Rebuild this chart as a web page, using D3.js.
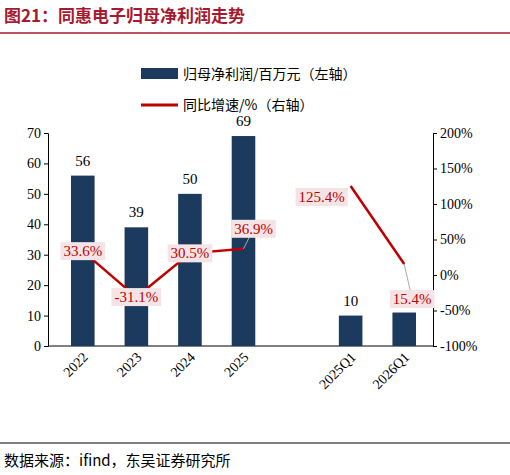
<!DOCTYPE html><html><head><meta charset="utf-8"><script src="https://cdn.jsdelivr.net/npm/d3@7"></script>
<style>body{margin:0;background:#fff}</style></head><body><svg id="c" width="510" height="475"></svg>
<script>
const categories=["2022","2023","2024","2025","","2025Q1","2026Q1"];
const profit=[56,39,50,69,null,10,11];
const profitLabels=["56","39","50","69","","10",""];
const growth=[33.6,-31.1,30.5,36.9,null,125.4,15.4];
const leftTicks=[0,10,20,30,40,50,60,70];
const rightTicks=[-100,-50,0,50,100,150,200];
const svg=d3.select("#c");
const F="'Noto Sans CJK SC','Liberation Serif',serif";
svg.append("text").attr("x",4).attr("y",22).attr("font-family",F).attr("font-weight","bold").attr("font-size",17).attr("fill","#a6192e").text("图21：同惠电子归母净利润走势");
svg.append("line").attr("x1",0).attr("x2",510).attr("y1",33).attr("y2",33).attr("stroke","#a6192e").attr("stroke-width",1.5);
const x=d3.scaleBand().domain(categories.map((d,i)=>i)).range([56,431]).paddingInner(0.56).paddingOuter(0.28);
const y=d3.scaleLinear().domain([0,70]).range([346,133]);
const y2=d3.scaleLinear().domain([-100,200]).range([346,133]);
const fontSerif="'Liberation Serif','Times New Roman',serif";
const ga=svg.append("g").attr("transform","translate(48,0)").call(d3.axisLeft(y).tickValues(leftTicks).tickSize(4));
const gb=svg.append("g").attr("transform","translate(433,0)").call(d3.axisRight(y2).tickValues(rightTicks).tickFormat(d=>d+"%").tickSize(4));
svg.append("line").attr("x1",48).attr("x2",433).attr("y1",346).attr("y2",346).attr("stroke","#000");
[ga,gb].forEach(g=>{g.selectAll("text").attr("font-family",fontSerif).attr("font-size",14).attr("fill","#000");g.select(".domain").attr("stroke","#000");});
const bc=(i)=>x(i)+x.bandwidth()/2;
svg.selectAll(".bar").data(profit.map((v,i)=>({v,i})).filter(d=>d.v!=null)).enter().append("rect")
 .attr("x",d=>x(d.i)).attr("width",x.bandwidth()).attr("y",d=>y(d.v)).attr("height",d=>346-y(d.v)).attr("fill","#1b3a5e");
profitLabels.forEach((t,i)=>{if(!t)return;svg.append("text").attr("x",bc(i)).attr("y",y(profit[i])-10).attr("text-anchor","middle").attr("font-family",fontSerif).attr("font-size",15).text(t);});
const line=d3.line().defined(d=>d.v!=null).x(d=>bc(d.i)).y(d=>y2(d.v));
svg.append("path").datum(growth.map((v,i)=>({v,i}))).attr("d",line).attr("fill","none").attr("stroke","#c00000").attr("stroke-width",2.5);
const offs=[[0,0],[0,0],[0,0],[10,-20],null,[-29,11],[8,35]];
[3,6].forEach(i=>{svg.append("line").attr("x1",bc(i)).attr("y1",y2(growth[i])).attr("x2",bc(i)+offs[i][0]).attr("y2",y2(growth[i])+offs[i][1]).attr("stroke","#aaa");});
growth.forEach((v,i)=>{if(v==null)return;const cx=bc(i)+offs[i][0],cy=y2(v)+offs[i][1];
 const g=svg.append("g");const t=g.append("text").attr("x",cx).attr("y",cy+5).attr("text-anchor","middle").attr("font-family",fontSerif).attr("font-size",15).attr("fill","#c00000").text(v.toFixed(1)+"%");
 const b=t.node().getBBox();g.insert("rect","text").attr("x",b.x-3).attr("y",b.y-1).attr("width",b.width+6).attr("height",b.height+2).attr("fill","#f5e4e6");});
categories.forEach((c,i)=>{if(!c)return;svg.append("text").attr("transform",`translate(${bc(i)+6},${358}) rotate(-45)`).attr("text-anchor","end").attr("font-family",fontSerif).attr("font-size",14).text(c);});
svg.append("rect").attr("x",141).attr("y",68).attr("width",37).attr("height",11).attr("fill","#1b3a5e");
svg.append("text").attr("x",183).attr("y",79).attr("font-family",F).attr("font-size",14).text("归母净利润/百万元（左轴）");
svg.append("line").attr("x1",141).attr("x2",178).attr("y1",105).attr("y2",105).attr("stroke","#c00000").attr("stroke-width",3);
svg.append("text").attr("x",183).attr("y",110).attr("font-family",F).attr("font-size",14).text("同比增速/%（右轴）");
svg.append("line").attr("x1",0).attr("x2",510).attr("y1",443).attr("y2",443).attr("stroke","#000").attr("stroke-width",1);
svg.append("text").attr("x",4).attr("y",466).attr("font-family",F).attr("font-size",15).text("数据来源：ifind，东吴证券研究所");
</script></body></html>
